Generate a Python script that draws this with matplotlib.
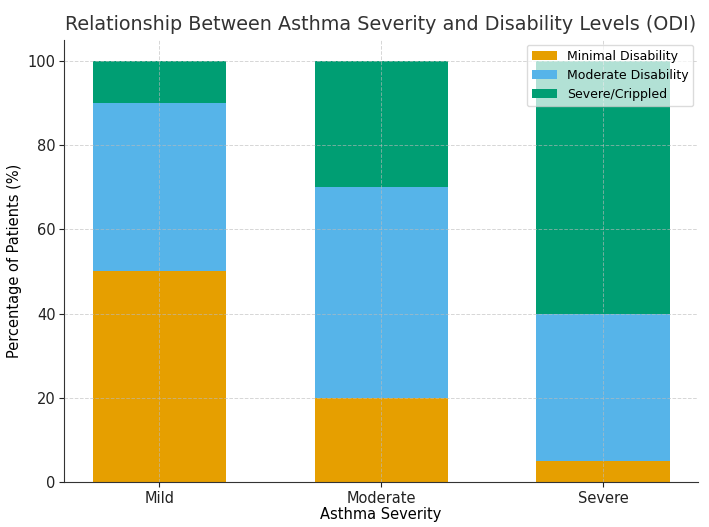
import matplotlib
matplotlib.use("Agg")
import matplotlib.pyplot as plt
import numpy as np

severity = ["Mild", "Moderate", "Severe"]
minimal = [50, 20, 5]
moderate = [40, 50, 35]
severe = [10, 30, 60]

colors = ["#E69F00", "#56B4E9", "#009E73"]

fig, ax = plt.subplots(figsize=(7.09, 5.27), dpi=100)
x = np.arange(len(severity))
width = 0.6

ax.bar(x, minimal, width, color=colors[0], label="Minimal Disability")
ax.bar(x, moderate, width, bottom=minimal, color=colors[1], label="Moderate Disability")
bottom2 = np.array(minimal) + np.array(moderate)
ax.bar(x, severe, width, bottom=bottom2, color=colors[2], label="Severe/Crippled")

ax.set_xticks(x)
ax.set_xticklabels(severity)
ax.tick_params(axis="both", labelsize=10.5, pad=2.5, colors="#222222")
ax.set_xlabel("Asthma Severity", fontsize=10.5, labelpad=1)
ax.set_ylabel("Percentage of Patients (%)", fontsize=10.5, labelpad=4)
ax.set_title("Relationship Between Asthma Severity and Disability Levels (ODI)",
             fontsize=13.8, color="#333333", pad=7)

ax.grid(True, linestyle="--", linewidth=0.7, color="#bbbbbb", alpha=0.6)
ax.set_axisbelow(False)
for side in ["top", "right"]:
    ax.spines[side].set_visible(False)
for side in ["left", "bottom"]:
    ax.spines[side].set_color("#333333")

ax.legend(loc="upper right", fontsize=9, framealpha=0.7,
          borderaxespad=0.4)

fig.subplots_adjust(left=0.09, right=0.985, top=0.925, bottom=0.085)
fig.savefig("out.png", dpi=100)
